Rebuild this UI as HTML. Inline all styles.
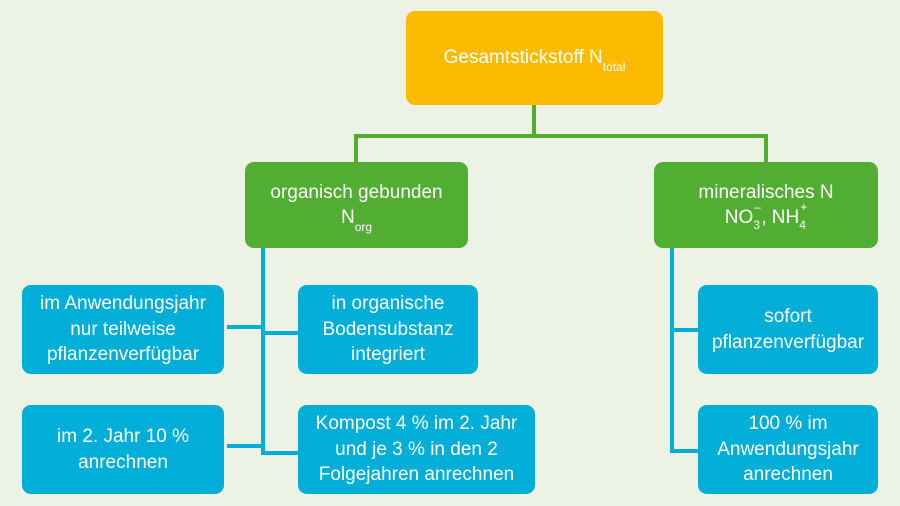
<!DOCTYPE html>
<html><head><meta charset="utf-8"><style>
*{margin:0;padding:0;box-sizing:border-box}
body{width:900px;height:506px;background:#edf3e4;position:relative;overflow:hidden;font-family:"Liberation Sans",sans-serif;color:#fff}
.b{position:absolute;border-radius:9px;display:flex;align-items:center;justify-content:center;text-align:center;font-size:19px;line-height:25.5px}
.y{background:#fcbb00}
.g{background:#52ae32}
.c{background:#00aed8}
.l{position:absolute}
.gl{background:#52ae32}
.cl{background:#00aed8}
sub.s{font-size:12px;vertical-align:-8px;line-height:0}
.st{display:inline-block;position:relative;width:8px;height:20px;vertical-align:-4px}
.st .u{position:absolute;left:1px;top:-6px;font-size:12px;line-height:12px}
.st .d{position:absolute;left:0px;top:12px;font-size:12px;line-height:12px}
</style></head><body>
<!-- green connectors -->
<div class="l gl" style="left:532px;top:104px;width:4px;height:34px"></div>
<div class="l gl" style="left:354px;top:134px;width:414px;height:4px"></div>
<div class="l gl" style="left:354px;top:134px;width:4px;height:29px"></div>
<div class="l gl" style="left:764px;top:134px;width:4px;height:29px"></div>
<!-- blue connectors left -->
<div class="l cl" style="left:261px;top:247px;width:4px;height:208px"></div>
<div class="l cl" style="left:227px;top:325px;width:37px;height:4px"></div>
<div class="l cl" style="left:261px;top:331px;width:38px;height:4px"></div>
<div class="l cl" style="left:227px;top:444px;width:37px;height:4px"></div>
<div class="l cl" style="left:261px;top:451px;width:38px;height:4px"></div>
<!-- blue connectors right -->
<div class="l cl" style="left:670px;top:247px;width:4px;height:206px"></div>
<div class="l cl" style="left:670px;top:328px;width:29px;height:4px"></div>
<div class="l cl" style="left:670px;top:449px;width:29px;height:4px"></div>

<div class="b y" style="left:406px;top:11px;width:257px;height:94px"><div>Gesamtstickstoff N<sub class="s">total</sub></div></div>

<div class="b g" style="left:245px;top:162px;width:223px;height:86px"><div>organisch gebunden<br>N<sub class="s">org</sub></div></div>
<div class="b g" style="left:654px;top:162px;width:224px;height:86px"><div>mineralisches N<br>NO<span class="st"><span class="u">–</span><span class="d">3</span></span>, NH<span class="st"><span class="u">+</span><span class="d">4</span></span></div></div>

<div class="b c" style="left:22px;top:285px;width:202px;height:89px"><div>im Anwendungsjahr<br>nur teilweise<br>pflanzenverfügbar</div></div>
<div class="b c" style="left:22px;top:405px;width:202px;height:89px"><div>im 2. Jahr 10 %<br>anrechnen</div></div>
<div class="b c" style="left:298px;top:285px;width:180px;height:89px"><div>in organische<br>Bodensubstanz<br>integriert</div></div>
<div class="b c" style="left:298px;top:405px;width:237px;height:89px"><div>Kompost 4 % im 2. Jahr<br>und je 3 % in den 2<br>Folgejahren anrechnen</div></div>

<div class="b c" style="left:698px;top:285px;width:180px;height:89px"><div>sofort<br>pflanzenverfügbar</div></div>
<div class="b c" style="left:698px;top:405px;width:180px;height:89px"><div>100 % im<br>Anwendungsjahr<br>anrechnen</div></div>
</body></html>
